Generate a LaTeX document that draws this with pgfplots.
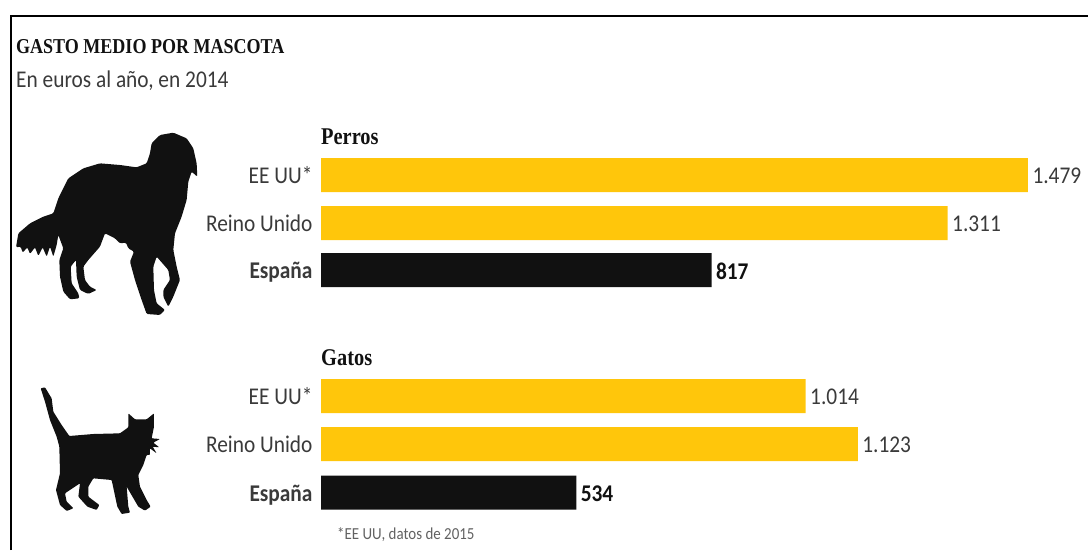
\documentclass[border=0pt]{standalone}
\usepackage{fontspec}
\setmainfont[FakeStretch=0.89]{Carlito}
\newfontfamily\headfont[FakeStretch=0.85]{Liberation Serif}
\usepackage{pgfplots}
\pgfplotsset{compat=1.18}
\definecolor{amarillo}{HTML}{FFC60B}
\definecolor{negro}{HTML}{111111}
\definecolor{texto}{HTML}{3A3A3A}

% Spending per pet: y holds the row position, x the euros per year
\pgfplotsset{
  barras/.style={
    xbar, bar shift=0pt, bar width=34pt, draw=none,
    nodes near coords,
    every node near coord/.append style={font=\fontsize{24}{24}\selectfont, xshift=1pt, yshift=-1pt},
  }
}
\begin{document}
\begin{tikzpicture}[x=1pt,y=-1pt]
\path[use as bounding box] (0,0) rectangle (1088,550);

% Frame open on the right and at the bottom
\draw[black,line width=2pt] (10.5,550) -- (10.5,16) -- (1088,16);

\begin{axis}[
  at={(321pt,0pt)}, anchor=north west,
  scale only axis, width=767pt, height=550pt,
  xmin=0, xmax=1604.6, ymin=0, ymax=550, y dir=reverse,
  clip=false,
  axis line style={draw=none}, tick style={draw=none},
  xtick=\empty,
  ytick={175,223,270,396,444,492.5},
  yticklabels={EE UU*,Reino Unido,\textbf{España},EE UU*,Reino Unido,\textbf{España}},
  yticklabel style={font=\fontsize{24}{24}\selectfont, text=texto, xshift=-5pt, yshift=-3.2pt,
    text height=16pt, text depth=5pt},
  /pgf/number format/.cd, 1000 sep={.}, assume math mode=true,
]
\addplot[barras, fill=amarillo, text=texto] coordinates {(1479,175) (1311,223) (1014,396) (1123,444)};
\addplot[barras, fill=negro, text=negro,
  every node near coord/.append style={font=\fontsize{24}{24}\selectfont\bfseries}]
  coordinates {(817,270) (534,492.5)};
\end{axis}

% Headings
\node[anchor=base west,inner sep=0,text=negro,font=\headfont\bfseries\fontsize{21.2}{21.2}\selectfont] at (16,53) {GASTO MEDIO POR MASCOTA};
\node[anchor=base west,inner sep=0,text=texto,font=\fontsize{24}{24}\selectfont] at (16,87) {En euros al año, en 2014};
\node[anchor=base west,inner sep=0,text=negro,font=\headfont\bfseries\fontsize{24}{24}\selectfont] at (321,144) {Perros};
\node[anchor=base west,inner sep=0,text=negro,font=\headfont\bfseries\fontsize{24}{24}\selectfont] at (321,365) {Gatos};
\node[anchor=base west,inner sep=0,text=texto!80,font=\fontsize{16.8}{16.8}\selectfont] at (337,539) {*EE UU, datos de 2015};

% Dog silhouette
\begin{scope}[shift={(0,110)},x=0.3333pt,y=-0.3333pt]
\fill[negro,rounded corners=1.2pt]
 (520,68)--(560,85)--(580,115)--(590,160)--(592,200)--(575,185)--(565,215)--(560,270)--(545,320)
 --(525,370)--(520,420)--(530,470)--(540,510)--(520,560)--(505,590)--(490,560)--(490,540)--(510,510)
 --(505,480)--(470,440)--(460,470)--(462,540)--(470,580)--(495,600)--(480,615)--(440,612)--(425,570)
 --(405,510)--(390,455)--(402,425)--(385,415)--(378,398)--(360,400)--(345,385)--(315,370)--(300,410)
 --(265,450)--(250,470)--(255,510)--(270,530)--(290,540)--(265,552)--(240,540)--(230,500)--(228,450)
 --(212,470)--(215,520)--(235,550)--(238,565)--(210,568)--(190,545)--(180,500)--(178,450)--(190,415)
 --(175,375)--(170,405)--(160,440)--(150,410)--(140,440)--(128,412)--(115,438)--(105,412)--(90,432)
 --(82,412)--(68,428)--(62,410)--(48,412)--(55,370)--(90,340)--(130,320)--(160,310)--(175,265)
 --(205,205)--(250,175)--(300,160)--(360,165)--(410,172)--(440,160)--(450,130)--(455,100)--(480,75)--cycle;
\end{scope}

% Cat silhouette
\begin{scope}[shift={(0,340)},x=0.3333pt,y=-0.3333pt]
\fill[negro,rounded corners=0.8pt]
 (122,145)--(135,142)--(155,175)--(160,215)--(185,255)--(208,288)--(280,282)--(360,280)--(385,262)
 --(385,220)--(405,238)--(440,238)--(462,220)--(462,260)--(455,295)--(480,297)--(460,308)--(478,322)
 --(458,320)--(470,340)--(450,325)--(450,345)--(440,345)--(430,375)--(415,405)--(420,440)--(440,480)
 --(452,500)--(435,512)--(415,500)--(380,440)--(385,500)--(390,518)--(365,522)--(352,500)--(335,420)
 --(280,415)--(265,440)--(265,470)--(298,495)--(290,510)--(262,500)--(235,470)--(240,430)--(195,460)
 --(200,485)--(220,505)--(200,513)--(180,495)--(168,450)--(180,400)--(178,320)--(170,290)--(150,240)
 --(135,185)--cycle;
\end{scope}
\end{tikzpicture}
\end{document}
